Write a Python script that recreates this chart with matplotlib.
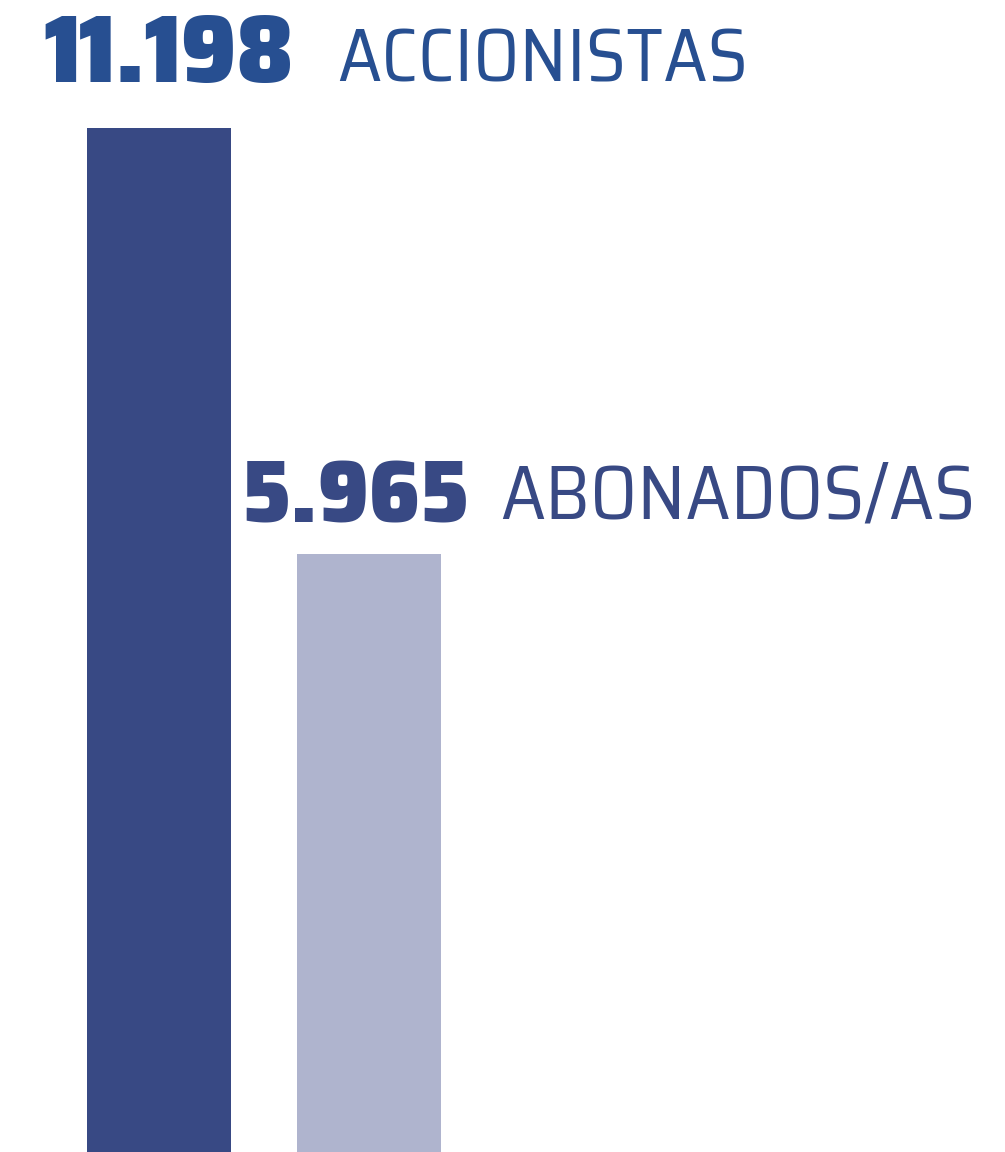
import numpy as np
import matplotlib
matplotlib.use("Agg")
import matplotlib.pyplot as plt

# data
categories = ["ACCIONISTAS", "ABONADOS/AS"]
values = [11198, 5965]
value_labels = ["11.198", "5.965"]

bar_colors = ["#384984", "#afb4ce"]
number_colors = ["#274f91", "#384984"]
word_colors = ["#274f91", "#384984"]

# the graphic's bars start below zero (truncated baseline)
floor = -1380
top = 12770

fig = plt.figure(figsize=(10.05, 11.52), dpi=100)
ax = fig.add_axes([0, 0, 1, 1])

x = np.arange(len(values))
width = 0.686
ax.bar(x, [v - floor for v in values], width, bottom=floor, color=bar_colors)

ax.set_xlim(-0.757, 4.029)
ax.set_ylim(floor, top)
ax.axis("off")

num_font = ["Saira SemiCondensed", "DejaVu Sans"]
word_font = ["Saira SemiCondensed", "DejaVu Sans"]

# pixel offsets from bar top-left: (number dx, dy, target width), (word dx, dy, target width)
num_pos = [(-43, 46, 249), (-56, 32, 228)]
word_pos = [(250, 46, 411), (203, 36, 475)]

renderer = fig.canvas.get_renderer()


def fitted(label, xy, pos, size, **kw):
    dx, dy, target = pos
    t = ax.annotate(label, xy=xy, xytext=(dx, dy), textcoords="offset pixels",
                    ha="left", va="baseline", fontsize=size, **kw)
    w = t.get_window_extent(renderer).width
    t.set_fontsize(size * target / w)
    return t


for i, v in enumerate(values):
    left = x[i] - width / 2
    fitted(value_labels[i], (left, v), num_pos[i], 80,
           fontweight="black", family=num_font, color=number_colors[i])
    fitted(categories[i], (left, v), word_pos[i], 70,
           family=word_font, color=word_colors[i])

fig.savefig("out.png", dpi=100)
